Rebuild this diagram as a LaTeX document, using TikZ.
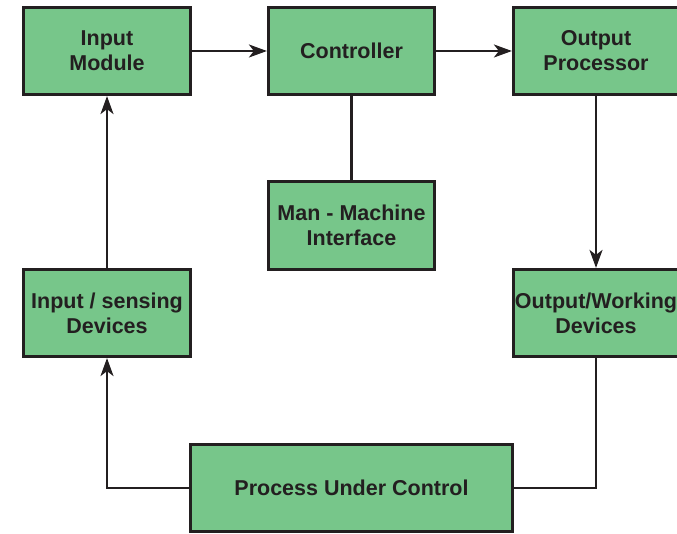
\documentclass[tikz,border=0pt]{standalone}
\usepackage{fontspec}
\setmainfont{Liberation Sans}
\usetikzlibrary{arrows.meta}
\definecolor{boxgreen}{RGB}{119,198,138}
\definecolor{ink}{RGB}{35,31,32}
\begin{document}
\begin{tikzpicture}[x=1pt,y=-1pt,
  blk/.style={draw=ink,fill=boxgreen,line width=3.2pt,minimum height=87pt,
    inner sep=0pt,align=center,text=ink,
    font=\fontsize{21.5}{25}\selectfont\bfseries},
  conn/.style={draw=ink,line width=2.2pt},
  arr/.style={conn,-{Stealth[length=18pt,width=13pt,inset=5pt]}}]
\useasboundingbox (0,0) rectangle (677,534);
\node[blk,minimum width=167pt] (inmod) at (107,51) {Input\\Module};
\node[blk,minimum width=166pt] (ctrl) at (351.5,51) {Controller};
\node[blk,minimum width=165pt] (outp) at (596,51) {Output\\Processor};
\node[blk,minimum width=166pt,minimum height=88pt] (mmi) at (351.5,225.5) {Man - Machine\\Interface};
\node[blk,minimum width=167pt] (insens) at (107,313) {Input / sensing\\Devices};
\node[blk,minimum width=165pt] (outw) at (596,313) {Output/Working\\Devices};
\node[blk,minimum width=322pt] (proc) at (351.5,488) {Process Under Control};
\draw[arr] (inmod.east) -- (ctrl.west);
\draw[arr] (ctrl.east) -- (outp.west);
\draw[conn] (ctrl.south) -- (mmi.north);
\draw[arr] (outp.south) -- (outw.north);
\draw[arr] (insens.north) -- (inmod.south);
\draw[arr] (proc.west) -| (insens.south);
\draw[conn] (proc.east) -| (outw.south);
\end{tikzpicture}
\end{document}
